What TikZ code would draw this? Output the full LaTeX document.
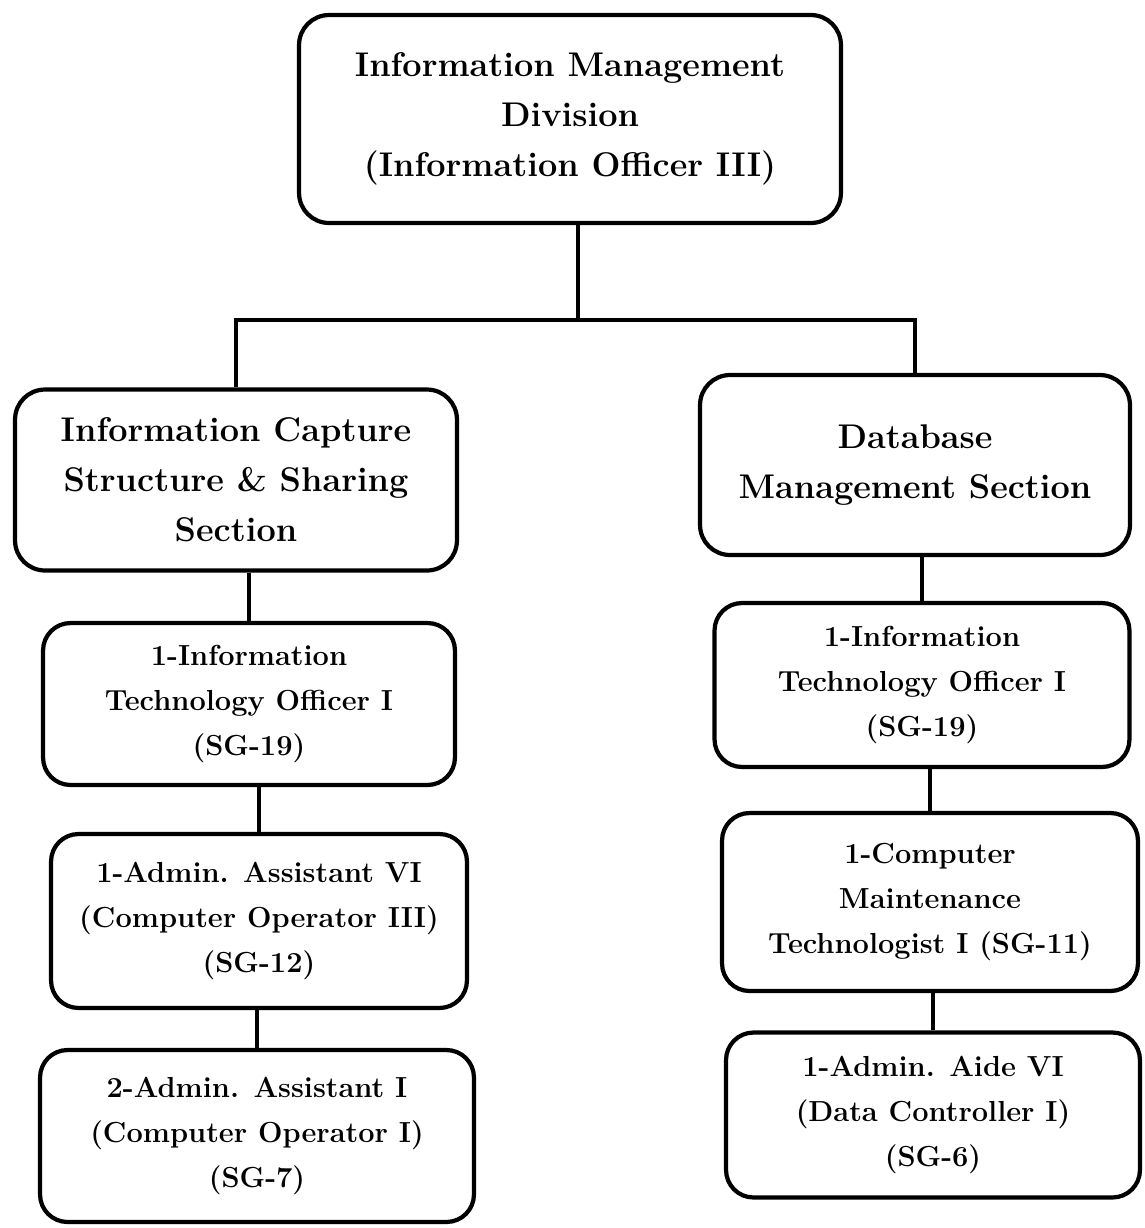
\documentclass[tikz,border=0pt]{standalone}
\usepackage{tikz}

\tikzset{
  unitbox/.style={draw, line width=2.4pt, rounded corners=0.6cm,
    align=center, inner sep=0pt,
    font=\fontsize{19.5}{28.5}\selectfont\bfseries},
  staffbox/.style={unitbox, rounded corners=0.55cm,
    font=\fontsize{16.5}{25.5}\selectfont\bfseries},
  link/.style={line width=2pt}
}

\begin{document}
\begin{tikzpicture}[x=0.02cm,y=-0.02cm]
  \useasboundingbox (0,0) rectangle (1144,1228);

  % division head
  \node [unitbox, minimum width=10.84cm, minimum height=4.16cm] (division) at (570,119)
    {Information Management\\Division\\(Information Officer III)};

  % sections
  \node [unitbox, minimum width=8.84cm, minimum height=3.62cm] (capture) at (236,480)
    {Information Capture\\Structure \& Sharing\\Section};
  \node [unitbox, minimum width=8.6cm, minimum height=3.6cm] (database) at (915,465)
    {Database\\Management Section};

  % left column
  \node [staffbox, minimum width=8.24cm, minimum height=3.24cm] (itoL) at (249,704)
    {1-Information\\Technology Officer I\\(SG-19)};
  \node [staffbox, minimum width=8.32cm, minimum height=3.48cm] (assistL) at (259,921)
    {1-Admin. Assistant VI\\(Computer Operator III)\\(SG-12)};
  \node [staffbox, minimum width=8.68cm, minimum height=3.44cm] (operL) at (257,1136)
    {2-Admin. Assistant I\\(Computer Operator I)\\(SG-7)};

  % right column
  \node [staffbox, minimum width=8.3cm, minimum height=3.28cm] (itoR) at (922,685)
    {1-Information\\Technology Officer I\\(SG-19)};
  \node [staffbox, minimum width=8.32cm, minimum height=3.56cm] (techR) at (930,902)
    {1-Computer\\Maintenance\\Technologist I (SG-11)};
  \node [staffbox, minimum width=8.28cm, minimum height=3.3cm] (aideR) at (933,1115)
    {1-Admin. Aide VI\\(Data Controller I)\\(SG-6)};

  \coordinate (split) at (578,320);
  \draw [link] (division.south -| split) -- (split);
  \draw [link] (capture.north) -- (capture.north |- split)
    -- (database.north |- split) -- (database.north);

  \draw [link] (itoL.north) -- (itoL.north |- capture.south);
  \draw [link] (assistL.north) -- (assistL.north |- itoL.south);
  \draw [link] (operL.north) -- (operL.north |- assistL.south);

  \draw [link] (itoR.north) -- (itoR.north |- database.south);
  \draw [link] (techR.north) -- (techR.north |- itoR.south);
  \draw [link] (aideR.north) -- (aideR.north |- techR.south);
\end{tikzpicture}
\end{document}
